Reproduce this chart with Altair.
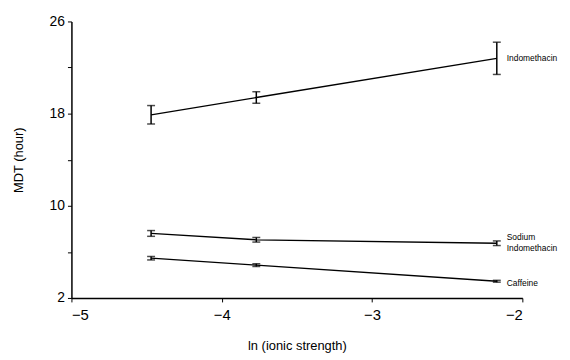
import altair as alt
import pandas as pd

ln_ionic = [-4.47, -3.77, -2.17]
indomethacin = [17.9, 19.4, 22.8]
indomethacin_err = [0.8, 0.5, 1.4]
sodium_indo = [7.6, 7.05, 6.75]
sodium_indo_err = [0.25, 0.2, 0.2]
caffeine = [5.45, 4.85, 3.45]
caffeine_err = [0.15, 0.12, 0.08]

label_text = ["Indomethacin", "Sodium", "Indomethacin", "Caffeine"]
label_y = [22.8, 7.3, 6.35, 3.3]

rows = []
for name, ys, es in [("Indomethacin", indomethacin, indomethacin_err),
                     ("Sodium Indomethacin", sodium_indo, sodium_indo_err),
                     ("Caffeine", caffeine, caffeine_err)]:
    for x, y, e in zip(ln_ionic, ys, es):
        rows.append({"series": name, "x": x, "y": y, "lo": y - e, "hi": y + e})
df = pd.DataFrame(rows)

labels = pd.DataFrame({"x": [ln_ionic[-1]] * len(label_text), "y": label_y, "t": label_text})

xs = alt.Scale(domain=[-5, -2], nice=False, zero=False, padding=0)
ys_ = alt.Scale(domain=[2, 26], nice=False, zero=False, padding=0)

xaxis = alt.Axis(values=[-5, -4, -3, -2], format="d", grid=False, tickSize=4,
                 labelFontSize=15, labelPadding=6, title="ln (ionic strength)",
                 titleFontSize=13, titleFontWeight="normal", titlePadding=17,
                 domainColor="black", tickColor="black", domainWidth=1.5,
                 labelColor="black", titleColor="black", labelFont="Liberation Sans",
                 titleFont="Liberation Sans")
yaxis = alt.Axis(values=[2, 6, 10, 14, 18, 22, 26],
                 labelExpr="(datum.value - 2) % 8 == 0 ? datum.label : ''",
                 grid=False, tickSize=4, labelFontSize=14, labelPadding=3,
                 title="MDT (hour)", titleFontSize=13, titleFontWeight="normal",
                 titlePadding=24, domainColor="black", tickColor="black",
                 domainWidth=1.5, labelColor="black", titleColor="black",
                 labelFont="Liberation Sans", titleFont="Liberation Sans")

base = alt.Chart(df)
lines = base.mark_line(color="black", strokeWidth=1.3).encode(
    x=alt.X("x:Q", scale=xs, axis=xaxis),
    y=alt.Y("y:Q", scale=ys_, axis=yaxis),
    detail="series:N",
)
bars = base.mark_rule(color="black", strokeWidth=1.5).encode(
    x="x:Q", y="lo:Q", y2="hi:Q"
)
cap_lo = base.mark_tick(color="black", orient="horizontal", size=8, thickness=1.5).encode(
    x="x:Q", y="lo:Q"
)
cap_hi = base.mark_tick(color="black", orient="horizontal", size=8, thickness=1.5).encode(
    x="x:Q", y="hi:Q"
)
text = alt.Chart(labels).mark_text(align="left", baseline="middle", dx=10,
                                   fontSize=8.5, font="Liberation Sans", color="black").encode(
    x=alt.X("x:Q", scale=xs), y=alt.Y("y:Q", scale=ys_), text="t:N"
)

chart = alt.layer(lines, bars, cap_lo, cap_hi, text).properties(
    width=455, height=279,
    autosize=alt.AutoSizeParams(type="none"),
    padding={"left": 64, "top": 12, "right": 40, "bottom": 58},
    background="white",
).configure_view(stroke=None)

chart.save("out.html", embed_options={"renderer": "svg", "actions": False})
